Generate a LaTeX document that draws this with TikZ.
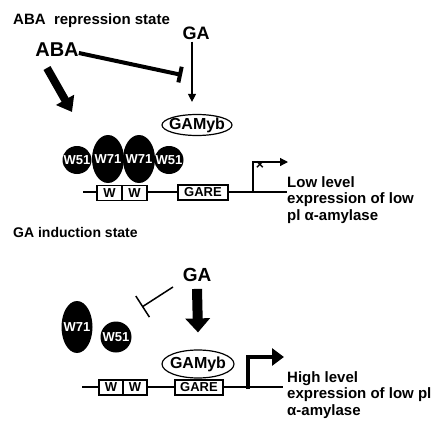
\documentclass[tikz,border=0pt]{standalone}
\usepackage{fontspec}
\setmainfont{Liberation Sans}
\usetikzlibrary{positioning, arrows.meta, shapes.geometric}

\begin{document}
\begin{tikzpicture}[
  x=1pt, y=-1pt,
  every node/.style={font=\bfseries, text=black},
  statelabel/.style={
    font=\fontsize{15}{17}\selectfont\bfseries,
    anchor=west,
    inner sep=0pt,
  },
  hormone/.style={
    font=\fontsize{19}{22}\selectfont\bfseries,
    inner sep=0pt,
  },
  wrky/.style={
    ellipse,
    fill=black,
    inner sep=0pt,
    label={[text=white, font=\fontsize{13}{15}\selectfont\bfseries, inner sep=0pt]center:#1},
  },
  myb/.style={
    ellipse,
    draw,
    line width=1.2pt,
    fill=white,
    inner sep=0pt,
    label={[font=\fontsize{16}{18}\selectfont\bfseries, inner sep=0pt]center:GAMyb},
  },
  site/.style={
    draw,
    line width=1.2pt,
    fill=white,
    minimum height=15pt,
    inner sep=0pt,
    font=\fontsize{13}{15}\selectfont\bfseries,
  },
  outcome/.style={
    font=\fontsize{15}{16.5}\selectfont\bfseries,
    align=left,
    anchor=north west,
    inner sep=0pt,
  },
  dna/.style={line width=1.5pt},
  fat/.style={line width=8pt, -{Triangle[length=14pt,width=20pt]}},
  block/.style={line width=4pt, -{Bar[width=16pt]}},
  thinblock/.style={line width=1.5pt, -{Bar[width=25pt]}},
  slim/.style={line width=1.2pt, -{Triangle[length=8pt,width=8pt]}},
  tss/.style={line width=4pt, -{Triangle[length=12pt,width=17pt]}},
]
  \useasboundingbox (0,0) rectangle (442,428);

  % ABA repression state
  \node[statelabel] (repstate) at (13,21) {ABA\ \ repression state};
  \node[hormone, font=\fontsize{20}{24}\selectfont\bfseries] (aba) at (57,50) {ABA};
  \node[hormone, font=\fontsize{18}{22}\selectfont\bfseries] (ga1) at (196,33) {GA};
  \node[myb, minimum width=70pt, minimum height=21pt] (myb1) at (197,125) {};

  \coordinate (abafrom) at (47,68);
  \coordinate (abato) at (72,112);
  \coordinate (abablock) at (182,75);
  \draw[fat] (abafrom) -- (abato);
  \draw[block] ([yshift=-3pt]aba.east) -- (abablock);
  \draw[slim, shorten <=2pt] ([xshift=-4pt]ga1.south) -- ([xshift=-5pt,yshift=12pt]myb1.north);

  \coordinate (dna1s) at (83,192);
  \coordinate (dna1e) at (287,192);
  \coordinate (tss1) at (253,192);
  \coordinate (tip1) at (288,162);
  \draw[dna] (dna1s) -- (dna1e);
  \node[site, minimum width=25pt] (w1a) at (109.5,193) {W};
  \node[site, minimum width=25pt] (w2a) at (134.5,193) {W};
  \node[site, minimum width=50pt] (gare1) at (203,192.5) {GARE};
  \draw[slim] (tss1) |- (tip1);
  \node[font=\fontsize{14}{14}\selectfont\bfseries, inner sep=0pt] (stop1) at (260,165) {×};

  \node[wrky=W51, minimum width=29pt, minimum height=28pt] (w51a) at (77,160) {};
  \node[wrky=W51, minimum width=29pt, minimum height=28pt] (w51b) at (169,160) {};
  \node[wrky=W71, minimum width=32pt, minimum height=48pt] (w71a) at (108,159) {};
  \node[wrky=W71, minimum width=32pt, minimum height=48pt] (w71b) at (139,159) {};

  \node[outcome] (lowexpr) at (287,176) {Low level\\expression of low\\pl α-amylase};

  % GA induction state
  \node[statelabel, font=\fontsize{14}{16}\selectfont\bfseries] (indstate) at (13,232) {GA induction state};
  \node[hormone] (ga2) at (197,275) {GA};
  \node[wrky=W71, minimum width=31pt, minimum height=52pt] (w71c) at (77,327) {};
  \node[wrky=W51, minimum width=31pt, minimum height=31pt] (w51c) at (116,337) {};

  \coordinate (inhfrom) at (173,287);
  \coordinate (inhto) at (142,307);
  \draw[thinblock] (inhfrom) -- (inhto);

  \coordinate (dna2s) at (82,387);
  \coordinate (dna2e) at (283,387);
  \coordinate (tss2) at (248,388.5);
  \coordinate (tip2) at (284,357);
  \draw[dna] (dna2s) -- (dna2e);
  \node[site, minimum width=24pt] (w1b) at (111,387.5) {W};
  \node[site, minimum width=24pt] (w2b) at (135,387.5) {W};
  \node[site, minimum width=48pt] (gare2) at (199,387.5) {GARE};
  \node[myb, minimum width=72pt, minimum height=28pt] (myb2) at (198,364) {};
  \draw[fat, line width=10pt, -{Triangle[length=14pt,width=24pt]}] ([yshift=-7pt]ga2.south) -- ([yshift=17pt]myb2.north);
  \draw[tss] (tss2) |- (tip2);

  \node[outcome] (highexpr) at (287,371) {High level\\expression of low pl\\α-amylase};
\end{tikzpicture}
\end{document}
